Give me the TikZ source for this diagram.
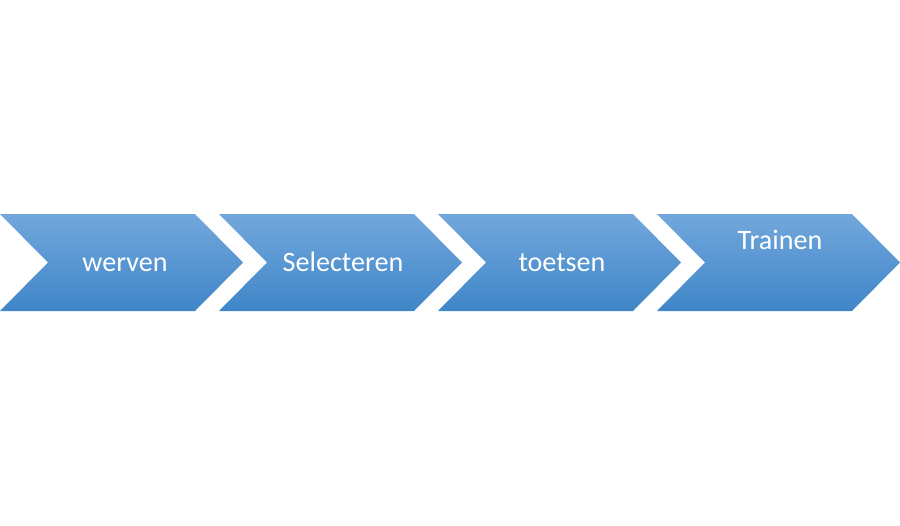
\documentclass[tikz,border=0pt]{standalone}
\usepackage{fontspec}
\setmainfont{Carlito}
\definecolor{chevtop}{HTML}{72A7DC}
\definecolor{chevmid}{HTML}{559BDC}
\definecolor{chevbot}{HTML}{3F86C8}
\tikzset{
  chevron/.style={top color=chevtop, middle color=chevmid, bottom color=chevbot, draw=none},
  label/.style={text=white, anchor=base, inner sep=0pt, font=\fontsize{16}{19}\selectfont}
}
\begin{document}
\begin{tikzpicture}[x=0.02cm, y=-0.02cm]
	\useasboundingbox (0,0) rectangle (900,525);
	
	%chevrons
	\foreach \x in {0,219,438,657}{
		\shade[chevron] (\x,214)--(\x+195,214)--(\x+243,262.5)--(\x+195,311)--(\x,311)--(\x+48,262.5)--cycle;
	}
	
	%labels
	\node[label] (werven) at (125,271) {werven};
	\node[label] (select) at (343,271) {Selecteren};
	\node[label] (toetsen) at (562,271) {toetsen};
	\node[label] (trainen) at (780,249) {Trainen};
\end{tikzpicture}
\end{document}
